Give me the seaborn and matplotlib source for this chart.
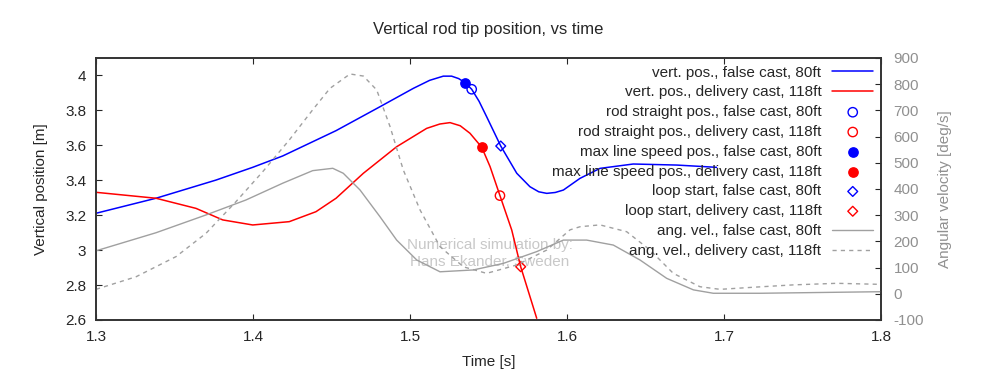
import numpy as np
import pandas as pd
import seaborn as sns
import matplotlib.pyplot as plt
from matplotlib.ticker import FormatStrFormatter

# Vertical rod tip position [m], false cast 80ft
t_false = [1.300, 1.3382, 1.3764, 1.3998, 1.4189, 1.4529, 1.4809, 1.5021,
           1.5125, 1.5212, 1.5265, 1.5310, 1.535, 1.5393, 1.5440, 1.5488,
           1.5578, 1.568, 1.5764, 1.5820, 1.5871, 1.5925, 1.5977, 1.6083,
           1.621, 1.6422, 1.6699, 1.6953]
pos_false = [3.211, 3.297, 3.401, 3.474, 3.539, 3.684, 3.821, 3.926,
             3.972, 3.996, 3.996, 3.982, 3.959, 3.921, 3.852, 3.764,
             3.596, 3.440, 3.363, 3.334, 3.325, 3.330, 3.344, 3.411,
             3.468, 3.493, 3.487, 3.474]

# Vertical rod tip position [m], delivery cast 118ft
t_deliv = [1.300, 1.3382, 1.3637, 1.3807, 1.3998, 1.4231, 1.4401, 1.4529,
           1.4703, 1.4915, 1.5106, 1.5190, 1.5255, 1.5320, 1.5382, 1.5457,
           1.551, 1.5573, 1.5648, 1.5705, 1.5807]
pos_deliv = [3.331, 3.297, 3.239, 3.173, 3.144, 3.163, 3.220, 3.297,
             3.440, 3.592, 3.697, 3.722, 3.730, 3.712, 3.669, 3.589,
             3.478, 3.312, 3.115, 2.905, 2.610]

# Angular velocity [deg/s], false cast 80ft
t_av_false = [1.300, 1.3382, 1.3701, 1.3955, 1.4189, 1.438, 1.4508, 1.4575,
              1.4682, 1.4809, 1.4915, 1.5043, 1.5191, 1.5403, 1.5594, 1.5807,
              1.5977, 1.6125, 1.6295, 1.6465, 1.6635, 1.6805, 1.6932, 1.7229,
              1.800]
av_false = [164, 233, 301, 358, 422, 470, 479, 460, 396, 294, 205, 129, 84,
            91, 116, 161, 205, 205, 186, 129, 59, 15, 2, 2, 8]

# Angular velocity [deg/s], delivery cast 118ft
t_av_deliv = [1.300, 1.3255, 1.351, 1.3701, 1.3892, 1.4062, 1.4231, 1.438,
              1.449, 1.4618, 1.4703, 1.4788, 1.4873, 1.4957, 1.5064, 1.5191,
              1.534, 1.5488, 1.568, 1.5871, 1.6019, 1.6083, 1.621, 1.638,
              1.6529, 1.6677, 1.6847, 1.6975, 1.7187, 1.7441, 1.7718, 1.800]
av_deliv = [17, 65, 142, 231, 352, 466, 587, 702, 784, 839, 831, 778, 638,
            473, 320, 180, 103, 78, 110, 167, 244, 256, 263, 237, 167, 78,
            27, 17, 25, 34, 40, 36]

# Event markers: (time, position)
rod_straight_false = (1.5393, 3.921)
rod_straight_deliv = (1.5573, 3.312)
max_speed_false = (1.535, 3.959)
max_speed_deliv = (1.5457, 3.589)
loop_start_false = (1.5578, 3.596)
loop_start_deliv = (1.5705, 2.905)

sns.set_style("ticks")
plt.rcParams['font.family'] = ['Liberation Sans', 'DejaVu Sans']
plt.rcParams['axes.unicode_minus'] = False

fig, ax = plt.subplots(figsize=(10, 3.83), dpi=100)
fig.subplots_adjust(left=0.096, right=0.881, top=0.8486, bottom=0.1645)
ax2 = ax.twinx()

grey = '#a0a0a0'

sns.lineplot(x=t_false, y=pos_false, ax=ax, color='#0000ff', lw=1.1,
             label='vert. pos., false cast, 80ft', legend=False)
sns.lineplot(x=t_deliv, y=pos_deliv, ax=ax, color='#ff0000', lw=1.1,
             label='vert. pos., delivery cast, 118ft', legend=False)

def mark(pt, marker, color, filled, size, label):
    sns.scatterplot(x=[pt[0]], y=[pt[1]], ax=ax, marker=marker, s=size,
                    facecolor=color if filled else 'none', edgecolor=color,
                    linewidth=1.0, label=label, legend=False, zorder=5)

mark(rod_straight_false, 'o', '#0000ff', False, 45, 'rod straight pos., false cast, 80ft')
mark(rod_straight_deliv, 'o', '#ff0000', False, 45, 'rod straight pos., delivery cast, 118ft')
mark(max_speed_false, 'o', '#0000ff', True, 45, 'max line speed pos., false cast, 80ft')
mark(max_speed_deliv, 'o', '#ff0000', True, 45, 'max line speed pos., delivery cast, 118ft')
mark(loop_start_false, 'D', '#0000ff', False, 25, 'loop start, false cast, 80ft')
mark(loop_start_deliv, 'D', '#ff0000', False, 25, 'loop start, delivery cast, 118ft')

sns.lineplot(x=t_av_false, y=av_false, ax=ax2, color=grey, lw=1.0,
             label='ang. vel., false cast, 80ft', legend=False)
sns.lineplot(x=t_av_deliv, y=av_deliv, ax=ax2, color=grey, lw=1.0,
             linestyle=(0, (3, 3)), label='ang. vel., delivery cast, 118ft',
             legend=False)

ax.set_xlim(1.3, 1.8)
ax.set_ylim(2.6, 4.1)
ax.set_xticks([1.3, 1.4, 1.5, 1.6, 1.7, 1.8])
ax.set_yticks([2.6, 2.8, 3.0, 3.2, 3.4, 3.6, 3.8, 4.0])
ax.yaxis.set_major_formatter(FormatStrFormatter('%g'))
ax.xaxis.set_major_formatter(FormatStrFormatter('%g'))
ax2.set_ylim(-100, 900)
ax2.set_yticks(range(-100, 1000, 100))

ax.tick_params(direction='in', labelsize=11, top=True, length=4, pad=7)
ax2.tick_params(direction='in', labelsize=11, labelcolor='#909090',
                length=4, pad=9)
for sp in list(ax.spines.values()) + list(ax2.spines.values()):
    sp.set_linewidth(1.2)
    sp.set_color('#333333')

ax.set_xlabel('Time [s]', fontsize=11, labelpad=8)
ax.set_ylabel('Vertical position [m]', fontsize=11, labelpad=12)
ax2.set_ylabel('Angular velocity [deg/s]', fontsize=11, color='#909090',
               labelpad=10)
ax.set_title('Vertical rod tip position, vs time', fontsize=12, pad=17)

ax.text(1.551, 2.98, 'Numerical simulation by:\nHans Ekander, Sweden',
        ha='center', va='center', fontsize=11, color='#c8c8c8',
        linespacing=1.25, zorder=0)

h1, l1 = ax.get_legend_handles_labels()
h2, l2 = ax2.get_legend_handles_labels()
ax2.legend(h1 + h2, l1 + l2, loc='upper right', frameon=False,
           markerfirst=False, fontsize=11, labelspacing=0.38,
           handlelength=2.7, handletextpad=0.7, borderaxespad=0.3,
           borderpad=0.2)

fig.savefig('out.png', dpi=100)
